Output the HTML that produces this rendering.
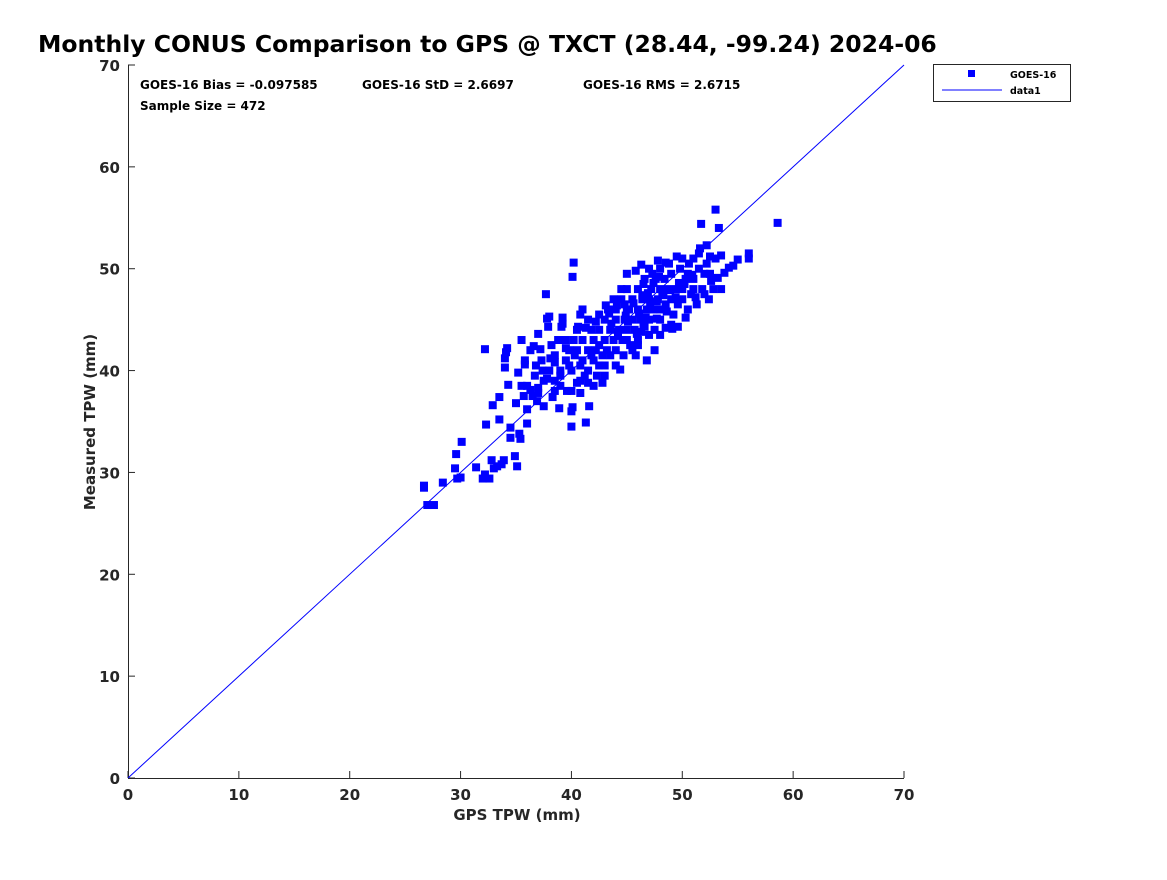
<!DOCTYPE html>
<html><head><meta charset="utf-8"><style>
body{margin:0;background:#fff;}
svg text{font-family:"DejaVu Sans","Liberation Sans",sans-serif;}
</style></head><body>
<svg width="1167" height="875" xmlns="http://www.w3.org/2000/svg">
<rect width="1167" height="875" fill="#fff"/>
<text x="38" y="52" font-size="23.5" font-weight="bold" fill="#000">Monthly CONUS Comparison to GPS @ TXCT (28.44, -99.24) 2024-06</text>
<g id="axes"></g>
<g id="marks"></g>
<text x="140" y="89" font-size="12" font-weight="bold">GOES-16 Bias = -0.097585</text>
<text x="362" y="89" font-size="12" font-weight="bold">GOES-16 StD = 2.6697</text>
<text x="583" y="89" font-size="12" font-weight="bold">GOES-16 RMS = 2.6715</text>
<text x="140" y="110" font-size="12" font-weight="bold">Sample Size = 472</text>
<g>
<rect x="933.5" y="64.5" width="137" height="37" fill="#fff" stroke="#262626" stroke-width="1"/>
<rect x="968" y="70" width="7" height="7" fill="#0000ff"/>
<text x="1010" y="78" font-size="9.5" font-weight="bold">GOES-16</text>
<line x1="942" y1="90" x2="1002" y2="90" stroke="#0000ff" stroke-width="1"/>
<text x="1010" y="94" font-size="9.5" font-weight="bold">data1</text>
</g>
<text x="517" y="820" font-size="15" font-weight="bold" fill="#262626" text-anchor="middle">GPS TPW (mm)</text>
<text transform="translate(95,422) rotate(-90)" font-size="15" font-weight="bold" fill="#262626" text-anchor="middle">Measured TPW (mm)</text>
</svg>
<script>
const xTicks=[0,10,20,30,40,50,60,70];
const yTicks=[0,10,20,30,40,50,60,70];
const gpsVals=[26.7,26.7,27,27.6,28.4,29.5,29.6,29.7,30,30.1,31.4,32,32.2,32.3,32.2,32.6,32.8,32.9,33,33.3,33.5,33.5,33.7,33.9,34,34,34.1,34.2,34.3,34.5,34.5,34.9,35,35.1,35.2,35.3,35.4,35.5,35.7,35.8,36,36,36.3,36.6,36.7,36.9,37,37.2,37.4,37.5,37.7,37.8,37.9,38,38.1,38.3,38.5,38.9,39.1,39.2,39.5,39.6,39.8,40,40,40.1,40.1,40.2,40.5,40.6,40.8,41.3,41.6,42.5,43,43.1,44.4,44.2,45,45.5,46.3,46.3,46.8,47.4,47.8,48.5,49.1,49.6,50.3,51.7,51.6,52.2,52.6,53,53.2,53.3,53,53.5,54.2,54.6,55,56,56,58.6,
38.5,39,39.5,39,40,40.3,40.5,40.8,41,41,41.2,41.5,41.5,41.8,42,42,42.2,42.5,42.5,42.8,43,43,43.2,43.5,43.5,43.8,44,44,44,44.3,44.5,44.6,44.8,45,45,45.2,45.3,45.5,45.5,45.7,46,46,46,46.2,46.4,46.5,46.6,46.8,47,47,47,47.2,47.4,47.5,47.6,47.8,48,48,48,48.2,48.4,48.5,48.7,49,49,49.2,49.4,49.6,49.8,50,50,50.3,50.5,50.6,50.8,51,51,51.3,51.5,51.8,52,52,52.4,52.8,50,51,49.5,48,47,46.5,45,44.5,43.8,42.5,41.5,40.5,39.5,38.5,38,37.5,37,36.5,36,36.8,37.3,38.2,38.8,39.8,40.2,41,41.8,42.3,42,41.5,40.8,40,39,38.5,37.8,44,44.7,45.8,46,47.5,48,48.5,49,45,43,42.8,46.7,47.3,48.8,47.9,45.8,44.8,43.3,42.2,41.3,50.2,51.2,52.2,52.5,53.5,53.8,52.5,51.5,50.5,49.4,36.3,35.8,35.5,37,39.2,40.8,
43.6,44.9,45.6,46.1,46.9,47.7,48.3,45.1,44.2,46.6,47.1,48.9,49.7,50.9,43.4,44.1,45.9,46.4,47.7,48.6];
const tpwVals=[28.5,28.7,26.8,26.8,29,30.4,31.8,29.4,29.5,33,30.5,29.4,29.8,34.7,42.1,29.4,31.2,36.6,30.4,30.6,35.2,37.4,30.8,31.2,40.3,41.2,41.8,42.2,38.6,34.4,33.4,31.6,36.8,30.6,39.8,33.8,33.3,38.5,37.5,40.6,36.2,34.8,38.1,42.4,39.5,37,38.3,42.1,40,36.5,47.5,45.1,44.3,45.3,41.2,37.4,40.8,36.3,44.3,44.6,42.2,38,40.5,36,34.5,36.4,49.2,50.6,38.8,44.3,37.8,34.9,36.5,40.5,39.5,46.4,40.1,43.8,46,42,50.4,43.8,41,48.6,50.8,50.6,44.1,44.3,45.2,54.4,52,52.3,48.8,55.8,49.1,54,51,51.3,50.1,50.3,50.9,51,51.5,54.5,
39,40,41,38.5,40,41.5,42,40.5,41,43,39.5,42,40,44,41,43,42,44,42.5,41.5,43,45,42,44,41.5,43,45,46,42,44,47,43,45,44,48,46,42.5,45,47,44,46,48,43,45,47,44.5,49,46,47,45,43.5,48,46,44,49,47,48,46,45,47.5,49,46.5,48,47,49.5,45.5,48,46.5,50,48,47,49,46,50.5,47.5,49,48,46.5,50,48,47.5,49.5,47,48,51,51,51.2,50,50,48.5,49.5,48,47,45.5,45,44,43,41.5,40,39,37.8,37.5,38.5,40.5,41,42.5,43,42,43,46,41.5,39.5,38.5,38.8,39,38,39.5,38,39.2,40.5,41.5,41.5,42.5,42,43.5,44.2,44.5,43,40.5,38.8,45.2,49.5,50.5,49.2,49.8,46.5,46,44.8,44.2,48.5,47.2,50.5,49.5,48,49.6,51.2,51.5,49.5,47.2,42,41,43,43.6,45.2,45.5,
44.6,45.4,46.6,45.6,47.6,46.8,47.4,44.8,43.4,44.3,46.3,47.9,48.6,49.4,45.6,46.4,43.6,47.4,45.1,45.8];
const X0=128,X1=904,Y0=778,Y1=65,XMAX=70,YMAX=70;
const xs=v=>X0+(X1-X0)*v/XMAX;
const ys=v=>Y0-(Y0-Y1)*v/YMAX;
const NS='http://www.w3.org/2000/svg';
const axes=document.getElementById('axes');
function mk(tag,attrs,parent){const e=document.createElementNS(NS,tag);for(const k in attrs)e.setAttribute(k,attrs[k]);parent.appendChild(e);return e;}
const xa=mk('line',{x1:X0,y1:Y0+0.5,x2:X1,y2:Y0+0.5,stroke:'#262626','stroke-width':1},axes);


const ya=mk('line',{x1:X0+0.5,y1:Y1,x2:X0+0.5,y2:Y0,stroke:'#262626','stroke-width':1},axes);


xTicks.forEach(t=>{
  const x=xs(t);
  const l=mk('line',{x1:x,y1:Y0,x2:x,y2:Y0-7,stroke:'#262626'},axes);
  
  
  const tx=mk('text',{x:x,y:Y0+22,'font-size':15,'font-weight':'bold',fill:'#262626','text-anchor':'middle'},axes);
  tx.textContent=t;
  
  
});
yTicks.forEach(t=>{
  const y=ys(t);
  const l=mk('line',{x1:X0,y1:y,x2:X0+7,y2:y,stroke:'#262626'},axes);
  
  
  const tx=mk('text',{x:X0-8,y:y+6,'font-size':15,'font-weight':'bold',fill:'#262626','text-anchor':'end'},axes);
  tx.textContent=t;
  
  
});
const marks=document.getElementById('marks');
const ref=mk('line',{x1:xs(0),y1:ys(0),x2:xs(70),y2:ys(70),stroke:'#0000ff','stroke-width':1},marks);


for(let i=0;i<gpsVals.length;i++){
  const r=mk('rect',{x:xs(gpsVals[i])-4,y:ys(tpwVals[i])-4,width:8,height:8,fill:'#0000ff'},marks);
  
  
}
</script>
</body></html>
